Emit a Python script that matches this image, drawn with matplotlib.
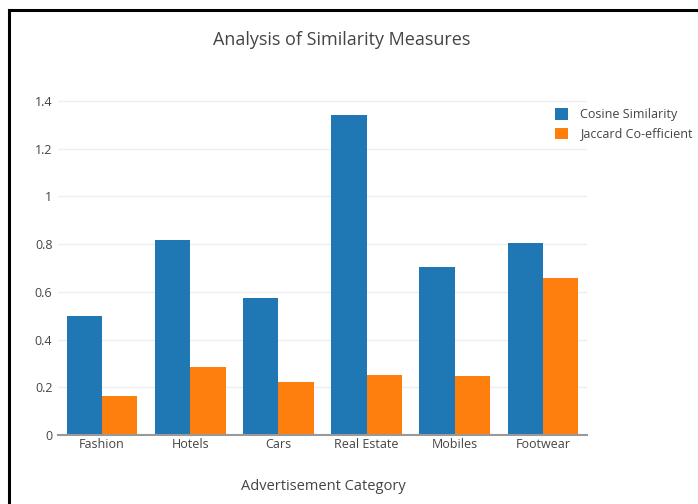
import matplotlib
matplotlib.use("Agg")
from matplotlib import pyplot as plt
from matplotlib.lines import Line2D
import numpy as np

categories = ['Fashion', 'Hotels', 'Cars', 'Real Estate', 'Mobiles', 'Footwear']
cosine = [0.50, 0.815, 0.575, 1.34, 0.705, 0.805]
jaccard = [0.165, 0.285, 0.222, 0.251, 0.248, 0.658]
yticks = [0, 0.2, 0.4, 0.6, 0.8, 1, 1.2, 1.4]
ytick_labels = ['0', '0.2', '0.4', '0.6', '0.8', '1', '1.2', '1.4']

plt.rcParams['font.family'] = ['Open Sans', 'DejaVu Sans']
txt = '#444444'

fig = plt.figure(figsize=(6.98, 5.04), dpi=100)
ax = fig.add_axes([58/698, 1 - 435/504, (587-58)/698, (435-98)/504])

x = np.arange(len(categories))
w = 0.4
ax.bar(x - w/2, cosine, w, color='#1f77b4', label='Cosine Similarity', zorder=3)
ax.bar(x + w/2, jaccard, w, color='#ff7f0e', label='Jaccard Co-efficient', zorder=3)

ax.set_xlim(-0.5, 5.5)
ax.set_ylim(0, 1.412)
ax.set_yticks(yticks)
ax.set_yticklabels(ytick_labels)
ax.set_xticks(x)
ax.set_xticklabels(categories)
ax.tick_params(axis='both', length=0, labelsize=9, colors=txt, pad=4)
ax.tick_params(axis='x', pad=2.5)
ax.grid(axis='y', color='#eeeeee', lw=1, zorder=0)
for s in ['top', 'right', 'left']:
    ax.spines[s].set_visible(False)
ax.spines['bottom'].set_color('#999999')
ax.spines['bottom'].set_linewidth(1.5)
ax.spines['bottom'].set_zorder(4)

fig.text(342/698, 1 - 40/504, 'Analysis of Similarity Measures', ha='center', va='center',
         fontsize=13, color=txt)
fig.text(323/698, 1 - 486/504, 'Advertisement Category', ha='center', va='center',
         fontsize=10.5, color=txt)

leg = ax.legend(loc='upper left', bbox_to_anchor=(544/698, 1 - 97/504),
                bbox_transform=fig.transFigure, frameon=False, fontsize=9,
                handlelength=1.0, handleheight=1.0, handletextpad=1.0, labelspacing=0.5)
for t in leg.get_texts():
    t.set_color(txt)

# black frame on top and left
fig.add_artist(Line2D([9/698, 9/698], [0, 1 - 10/504], color='black', lw=2.2,
                      transform=fig.transFigure, solid_capstyle='projecting'))
fig.add_artist(Line2D([9/698, 1], [1 - 10/504, 1 - 10/504], color='black', lw=2.2,
                      transform=fig.transFigure, solid_capstyle='projecting'))

fig.savefig('out.png', dpi=100)
